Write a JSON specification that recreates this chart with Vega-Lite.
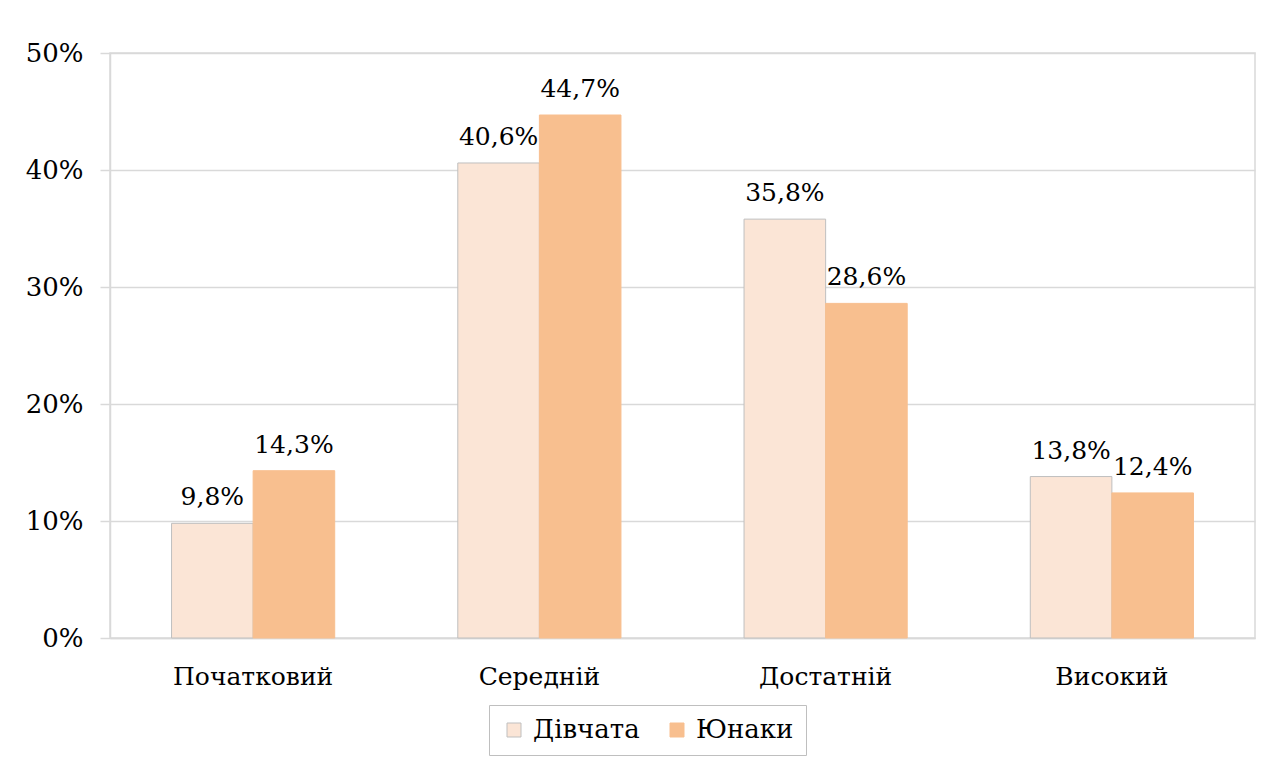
{
  "$schema": "https://vega.github.io/schema/vega-lite/v6.json",
  "width": 1145,
  "height": 585,
  "autosize": {"type": "none"},
  "padding": {"left": 110, "top": 53, "right": 23, "bottom": 124},
  "background": "#ffffff",
  "config": {
    "locale": {"number": {"decimal": ",", "thousands": " ", "grouping": [3], "currency": ["", " грн"]}},
    "view": {"stroke": "#D9D9D9", "strokeWidth": 1.5},
    "font": "DejaVu Serif"
  },
  "data": {
    "values": [
      {"level": "Початковий", "group": "Дівчата", "value": 0.098},
      {"level": "Початковий", "group": "Юнаки", "value": 0.143},
      {"level": "Середній", "group": "Дівчата", "value": 0.406},
      {"level": "Середній", "group": "Юнаки", "value": 0.447},
      {"level": "Достатній", "group": "Дівчата", "value": 0.358},
      {"level": "Достатній", "group": "Юнаки", "value": 0.286},
      {"level": "Високий", "group": "Дівчата", "value": 0.138},
      {"level": "Високий", "group": "Юнаки", "value": 0.124}
    ]
  },
  "encoding": {
    "x": {
      "field": "level", "type": "nominal",
      "sort": ["Початковий", "Середній", "Достатній", "Високий"],
      "scale": {"paddingInner": 0.43, "paddingOuter": 0.215},
      "axis": {
        "title": null, "labelAngle": 0, "ticks": false,
        "domainColor": "#D9D9D9", "domainWidth": 1.5,
        "labelFont": "DejaVu Serif", "labelFontSize": 25, "labelColor": "#000000",
        "labelPadding": 26
      }
    },
    "xOffset": {
      "field": "group", "type": "nominal",
      "sort": ["Дівчата", "Юнаки"],
      "scale": {"paddingInner": 0, "paddingOuter": 0}
    },
    "y": {
      "field": "value", "type": "quantitative",
      "scale": {"domain": [0, 0.5], "nice": false},
      "axis": {
        "title": null, "values": [0, 0.1, 0.2, 0.3, 0.4, 0.5], "format": ".0%",
        "gridColor": "#D9D9D9", "gridWidth": 1.5,
        "domainColor": "#D9D9D9", "domainWidth": 1.5,
        "tickColor": "#D9D9D9", "tickSize": 10, "tickWidth": 1.5,
        "labelFont": "DejaVu Serif", "labelFontSize": 26, "labelColor": "#000000",
        "labelPadding": 17
      }
    }
  },
  "layer": [
    {
      "mark": {"type": "bar", "strokeWidth": 1},
      "encoding": {
        "color": {
          "field": "group", "type": "nominal",
          "sort": ["Дівчата", "Юнаки"],
          "scale": {"domain": ["Дівчата", "Юнаки"], "range": ["#FBE5D6", "#F8BF8F"]},
          "legend": {
            "title": null, "orient": "none", "direction": "horizontal",
            "legendX": 379, "legendY": 652,
            "symbolType": "square", "symbolSize": 196, "symbolStrokeWidth": 1,
            "labelFont": "DejaVu Serif", "labelFontSize": 26, "labelColor": "#000000",
            "labelOffset": 6, "columnPadding": 24,
            "strokeColor": "#BFBFBF", "padding": 12
          }
        },
        "stroke": {
          "field": "group", "type": "nominal",
          "sort": ["Дівчата", "Юнаки"],
          "scale": {"domain": ["Дівчата", "Юнаки"], "range": ["#BFBFBF", "#F8BF8F"]},
          "legend": null
        }
      }
    },
    {
      "mark": {"type": "text", "baseline": "alphabetic", "dy": -18, "font": "DejaVu Serif", "fontSize": 25, "color": "#000000"},
      "encoding": {
        "text": {"field": "value", "type": "quantitative", "format": ".1%"}
      }
    }
  ]
}
